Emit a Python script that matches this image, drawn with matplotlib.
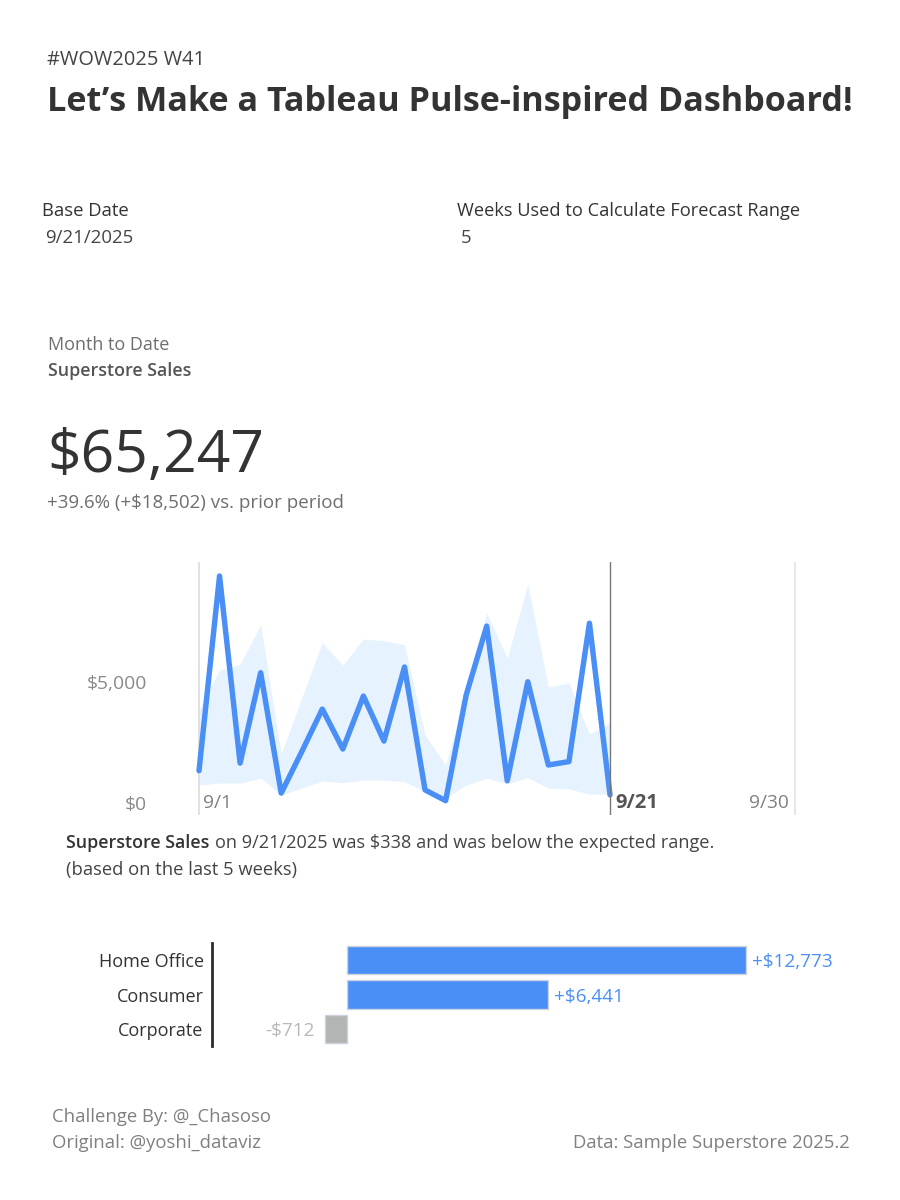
import numpy as np
import matplotlib
matplotlib.use("Agg")
import matplotlib.pyplot as plt

plt.rcParams['font.family'] = ['Open Sans', 'DejaVu Sans']

W, H = 900, 1200

# Daily sales, September 2025
days = np.arange(1, 22)
sales = [1335, 9380, 1650, 5385, 410, 2120, 3880, 2230, 4420, 2560, 5620,
         540, 95, 4460, 7310, 920, 5010, 1570, 1710, 7430, 338]
range_high = [3840, 5500, 5740, 7360, 2050, 4340, 6620, 5700, 6770, 6710, 6530,
              2810, 1570, 4540, 7850, 5990, 9050, 4790, 4960, 2850, 3300]
range_low = [740, 825, 825, 1030, 330, 620, 920, 840, 950, 950, 880,
             470, 205, 740, 1030, 785, 1045, 620, 580, 370, 370]
y_ticks = [0, 5000]
y_tick_labels = ['$0', '$5,000']

# Difference vs prior period by segment
segments = ['Home Office', 'Consumer', 'Corporate']
seg_diff = [12773, 6441, -712]
seg_labels = ['+$12,773', '+$6,441', '-$712']

BLUE = '#4a8ff5'
BAND = '#e6f2fd'
DARK = '#333333'
GREY = '#6e6e6e'


def px_axes(fig, left, top, right, bottom):
    return fig.add_axes([left / W, 1 - bottom / H, (right - left) / W, (bottom - top) / H])


def txt(x, y, s, size, color=DARK, weight='normal', ha='left'):
    fig.text(x / W, 1 - (y + 2) / H, s, fontsize=size, color=color, fontweight=weight,
             ha=ha, va='center')


fig = plt.figure(figsize=(W / 100, H / 100), dpi=100, facecolor='white')

# Headings
txt(47, 58, '#WOW2025 W41', 14.4, '#444444')
txt(47, 100, 'Let’s Make a Tableau Pulse-inspired Dashboard!', 24.6, DARK, 'bold')

txt(42, 209, 'Base Date', 13.3, DARK)
txt(45, 236, '9/21/2025', 13.4, '#444444')
txt(457, 209, 'Weeks Used to Calculate Forecast Range', 13.15, DARK)
txt(461, 236, '5', 13.4, '#444444')

txt(48, 343, 'Month to Date', 13, GREY)
txt(48, 369, 'Superstore Sales', 12.9, '#555555', 'semibold')
txt(47, 455, '$65,247', 42.3, DARK)
txt(47, 501, '+39.6% (+$18,502) vs. prior period', 13.5, GREY)

# Line chart
ax = px_axes(fig, 179, 562, 796, 815)
px_per_day = (610 - 199) / 20
ax.set_xlim(1 - (199 - 179) / px_per_day, 1 + (796 - 199) / px_per_day)
ax.set_ylim(-12 / 0.0242, (803 - 562) / 0.0242)
ax.fill_between(days, range_low, range_high, color=BAND, lw=0, zorder=1)
ax.axvline(1, color='#d8d8d8', lw=1.1, zorder=2)
ax.axvline(21, color='#777777', lw=1, zorder=4)
ax.axvline(30, color='#e0e0e0', lw=1.1, zorder=2)
ax.plot(days, sales, color=BLUE, lw=3.9, solid_joinstyle='round', solid_capstyle='round', zorder=3)
for side in ax.spines.values():
    side.set_visible(False)
ax.patch.set_alpha(0)
ax.set_xticks([])
ax.set_yticks(y_ticks)
ax.set_yticklabels(y_tick_labels, fontsize=13.9, color='#8a8a8a', va='center_baseline')
ax.tick_params(axis='y', length=0, pad=-(147 - 179) * 0.72)
ax.text(1.2, -5, '9/1', fontsize=13.8, color='#808080', ha='left', va='center')
ax.text(21.24, -5, '9/21', fontsize=14.5, color='#555555', fontweight='bold', ha='left', va='center')
ax.text(29.7, -5, '9/30', fontsize=13.8, color='#808080', ha='right', va='center')

# Insight text
txt(66, 841, 'Superstore Sales', 12.9, DARK, 'semibold')
txt(215, 841, 'on 9/21/2025 was $338 and was below the expected range.', 13.1, '#444444')
txt(66, 868, '(based on the last 5 weeks)', 13.2, '#444444')

# Segment bars
bx = px_axes(fig, 212, 943, 850, 1046)
px_per_dollar = (746 - 347) / 12773
bx.set_xlim(-(347 - 212) / px_per_dollar, (850 - 347) / px_per_dollar)
y_pos = np.arange(len(segments))
bar_colors = [BLUE if d > 0 else '#b3b5b5' for d in seg_diff]
bx.barh(y_pos, seg_diff, height=0.82, color=bar_colors, edgecolor='#ccd3de', linewidth=1)
bx.set_ylim(2.5, -0.5)
bx.set_yticks(y_pos)
bx.set_yticklabels(segments, fontsize=13, color=DARK, va='center_baseline')
bx.tick_params(axis='y', length=0, pad=6)
bx.set_xticks([])
for side in ['top', 'right', 'bottom']:
    bx.spines[side].set_visible(False)
bx.spines['left'].set_linewidth(2)
bx.spines['left'].set_color('#2b2b2b')
for i, (d, lab) in enumerate(zip(seg_diff, seg_labels)):
    if d > 0:
        bx.text(d + 180, i, lab, fontsize=13.7, color=BLUE, ha='left', va='center_baseline')
    else:
        bx.text(d - 320, i, lab, fontsize=13.7, color='#b8b8b8', ha='right', va='center_baseline')

# Footer
txt(52, 1115, 'Challenge By: @_Chasoso', 13.3, '#808080')
txt(52, 1141, 'Original: @yoshi_dataviz', 13.3, '#808080')
txt(850, 1141, 'Data: Sample Superstore 2025.2', 13.3, '#808080', ha='right')

fig.savefig('out.png', dpi=100)
